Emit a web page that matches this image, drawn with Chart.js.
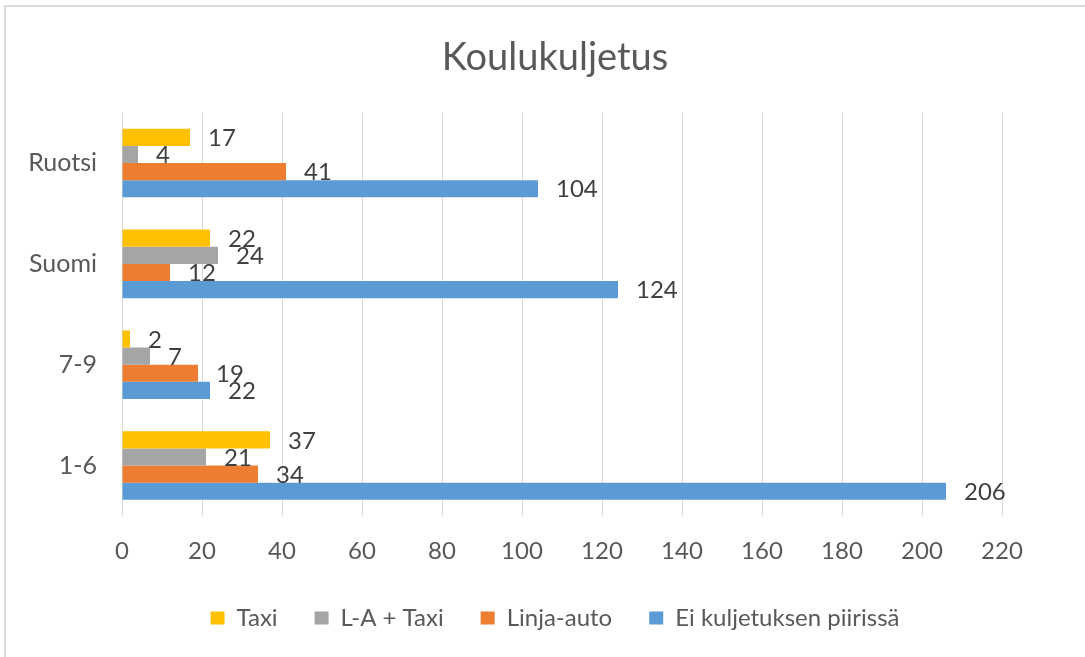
<!DOCTYPE html>
<html>
<head>
<meta charset="utf-8">
<script src="https://cdn.jsdelivr.net/npm/chart.js@4"></script>
<style>
  html, body { margin: 0; padding: 0; background: #fff; overflow: hidden; width: 1085px; height: 657px; }
  #wrap { position: relative; width: 1085px; height: 657px; overflow: hidden; }
  #frame { position: absolute; left: 4px; top: 5px; width: 1100px; height: 680px; border: 2px solid #d9d9d9; box-sizing: border-box; }
  canvas { position: absolute; left: 0; top: 0; }
</style>
</head>
<body>
<div id="wrap">
  <div id="frame"></div>
  <canvas id="c" width="1110" height="657"></canvas>
</div>
<script>
const titleText = 'Koulukuljetus';
const categories = ['Ruotsi', 'Suomi', '7-9', '1-6'];
const seriesNames = ['Taxi', 'L-A + Taxi', 'Linja-auto', 'Ei kuljetuksen piirissä'];
const taxi = [17, 22, 2, 37];
const laTaxi = [4, 24, 7, 21];
const linjaAuto = [41, 12, 19, 34];
const eiKuljetus = [104, 124, 22, 206];
const xTicks = [0, 20, 40, 60, 80, 100, 120, 140, 160, 180, 200, 220];
const colors = ['#FFC000', '#A5A5A5', '#ED7D31', '#5B9BD5'];

const FONT = 'Lato, Calibri, "Liberation Sans", sans-serif';
const TEXT = '#595959';

const valueLabels = {
  id: 'valueLabels',
  afterDatasetsDraw(chart) {
    const ctx = chart.ctx;
    ctx.save();
    ctx.font = '24px ' + FONT;
    ctx.fillStyle = '#404040';
    ctx.textAlign = 'left';
    ctx.textBaseline = 'middle';
    chart.data.datasets.forEach((ds, di) => {
      const meta = chart.getDatasetMeta(di);
      meta.data.forEach((el, i) => {
        ctx.fillText(String(ds.data[i]), el.x + 18, el.y + 1);
      });
    });
    ctx.restore();
  }
};

const seriesData = [taxi, laTaxi, linjaAuto, eiKuljetus];

new Chart(document.getElementById('c'), {
  type: 'bar',
  data: {
    labels: categories,
    datasets: seriesNames.map((n, i) => ({
      label: n,
      data: seriesData[i],
      backgroundColor: colors[i],
      borderWidth: 0,
      categoryPercentage: 0.68,
      barPercentage: 1.0,
      yAxisID: 'y'
    }))
  },
  options: {
    indexAxis: 'y',
    responsive: false,
    animation: false,
    devicePixelRatio: 1,
    layout: { padding: { left: 0, right: 0, top: 0, bottom: 17 } },
    plugins: {
      title: {
        display: true,
        text: titleText,
        color: TEXT,
        font: { family: FONT, size: 38, weight: 'normal' },
        padding: { top: 35, bottom: 32 }
      },
      legend: {
        display: true,
        position: 'bottom',
        labels: {
          color: TEXT,
          font: { family: FONT, size: 24 },
          boxWidth: 14,
          boxHeight: 13,
          padding: 37
        }
      },
      tooltip: { enabled: false }
    },
    scales: {
      x: {
        min: 0,
        max: 220,
        afterBuildTicks(scale) { scale.ticks = xTicks.map(v => ({ value: v })); },
        afterFit(scale) { scale.height = 53; },
        ticks: {
          color: TEXT,
          font: { family: FONT, size: 24 },
          padding: 21
        },
        grid: { color: '#d9d9d9', lineWidth: 1, drawTicks: false },
        border: { display: false }
      },
      y: {
        position: 'left',
        afterFit(scale) { scale.width = 122; },
        ticks: {
          color: TEXT,
          font: { family: FONT, size: 25 },
          padding: 25
        },
        grid: { display: false, drawTicks: false },
        border: { display: false }
      },
      spacer: {
        type: 'linear',
        position: 'right',
        display: true,
        afterFit(scale) { scale.width = 108; },
        ticks: { display: false },
        grid: { display: false, drawTicks: false },
        border: { display: false }
      }
    }
  },
  plugins: [valueLabels]
});
</script>
</body>
</html>
